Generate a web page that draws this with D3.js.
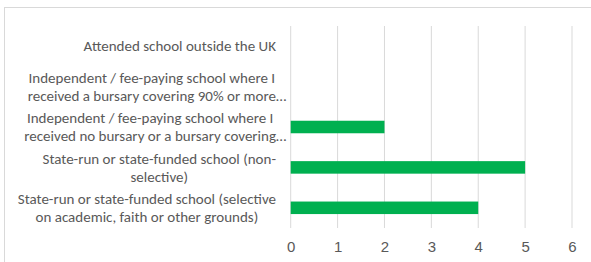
<!DOCTYPE html>
<html>
<head>
<meta charset="utf-8">
<script src="https://cdn.jsdelivr.net/npm/d3@7"></script>
<style>
  body { margin: 0; background: #fff; }
  svg { display: block; font-family: Carlito, Calibri, Lato, sans-serif; }
</style>
</head>
<body>
<div class="mainBody"></div>
<script>
// categories top to bottom, lines as Excel wraps/truncates them
var categories = [
    "Attended school outside the UK",
    "Independent / fee-paying school where I\nreceived a bursary covering 90% or more…",
    "Independent / fee-paying school where I\nreceived no bursary or a bursary covering…",
    "State-run or state-funded school (non-\nselective)",
    "State-run or state-funded school (selective\non academic, faith or other grounds)"
];
var values = [0, 0, 2, 5, 4];
var ticks = [0, 1, 2, 3, 4, 5, 6];

var width = 591, height = 262;
var margin = {top: 26, left: 290.7, right: 19, bottom: 34};
var textColor = "#595959";
var fontSize = "15px";

function drawChart() {
    let svg = d3.select("div.mainBody").append("svg")
        .attr("width", width)
        .attr("height", height);

    // chart frame (runs off the right and bottom of the crop)
    svg.append("rect")
        .attr("x", 4.5).attr("y", 7.5)
        .attr("width", width + 10).attr("height", height + 10)
        .attr("fill", "none")
        .attr("stroke", "#d9d9d9");

    let x = d3.scaleLinear()
        .domain([0, 6])
        .range([margin.left, width - margin.right]);
    let y = d3.scaleBand()
        .domain(categories)
        .range([margin.top, height - margin.bottom])
        .paddingInner(0.69)
        .paddingOuter(0.345);

    let plotTop = margin.top, plotBottom = height - margin.bottom;

    // vertical gridlines
    svg.append("g").selectAll("line")
        .data(ticks).enter().append("line")
        .attr("x1", function(d) { return x(d); })
        .attr("x2", function(d) { return x(d); })
        .attr("y1", plotTop)
        .attr("y2", plotBottom)
        .attr("stroke", "#d9d9d9")
        .attr("stroke-width", 1);

    // bars
    svg.append("g").selectAll("rect")
        .data(values).enter().append("rect")
        .attr("x", x(0))
        .attr("y", function(d, i) { return y(categories[i]); })
        .attr("width", function(d) { return x(d) - x(0); })
        .attr("height", y.bandwidth())
        .attr("fill", "#00b050");

    // x tick labels
    let xAxis = d3.axisBottom(x).tickValues(ticks).tickFormat(d3.format("d")).tickSize(0).tickPadding(0);
    let gx = svg.append("g")
        .attr("transform", `translate(0, ${plotBottom + 13})`)
        .call(xAxis);
    gx.select(".domain").remove();
    gx.selectAll("text")
        .attr("fill", textColor)
        .attr("font-size", fontSize)
        .attr("font-family", null);

    // category labels: block right aligned, lines centred inside block
    let labelRight = 276;
    let lineHeight = 18;
    let labels = svg.append("g");
    categories.forEach(function(cat) {
        let lines = cat.split("\n");
        let cy = y(cat) + y.bandwidth() / 2;
        let g = labels.append("g");
        let texts = g.selectAll("text")
            .data(lines).enter().append("text")
            .attr("fill", textColor)
            .attr("font-size", fontSize)
            .attr("dy", "0.35em")
            .attr("y", function(d, i) { return cy + (i - (lines.length - 1) / 2) * lineHeight; })
            .text(function(d) { return d; });
        // width without trailing ellipsis decides the block
        let probe = g.append("text").attr("font-size", fontSize).attr("visibility", "hidden");
        let widths = lines.map(function(l) {
            probe.text(l.replace("…", ""));
            return probe.node().getComputedTextLength();
        });
        probe.remove();
        let blockW = d3.max(widths);
        texts.attr("x", function(d, i) { return labelRight - blockW / 2 - widths[i] / 2; });
    });
}

drawChart();
</script>
</body>
</html>
